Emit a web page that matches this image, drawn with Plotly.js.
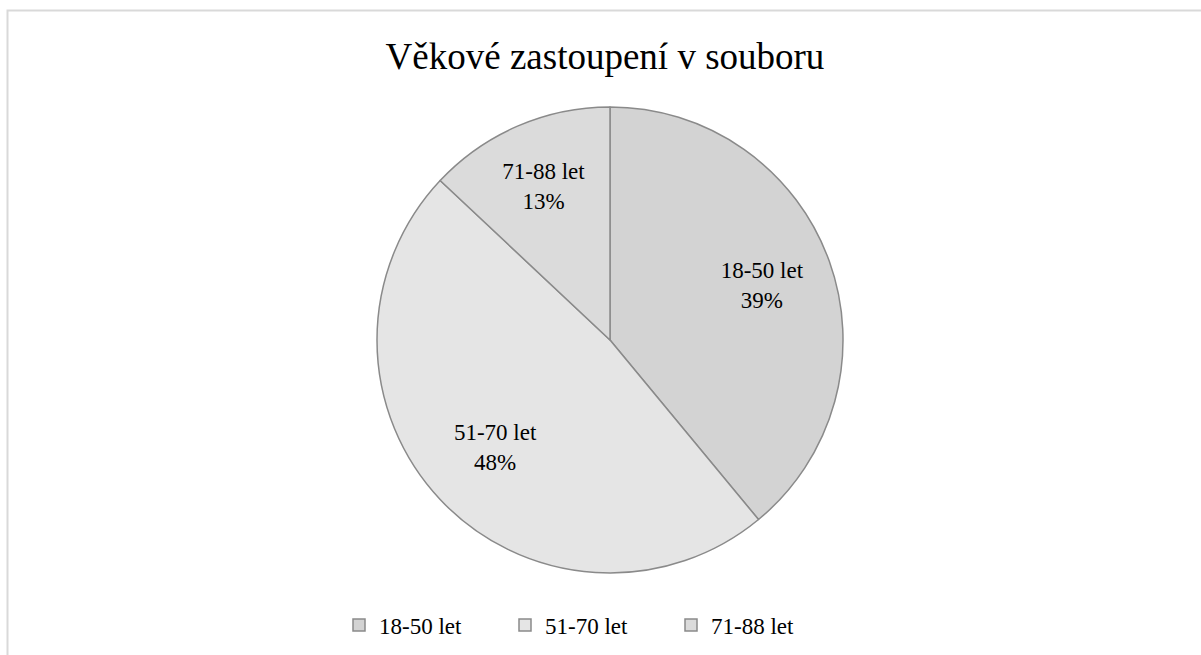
<!DOCTYPE html>
<html>
<head>
<meta charset="utf-8">
<script src="https://cdn.plot.ly/plotly-3.0.1.min.js"></script>
<style>
html,body{margin:0;padding:0;background:#fff;overflow:hidden;}
#chart{width:1201px;height:655px;}
</style>
</head>
<body>
<div id="chart"></div>
<script>
var categories = ["18-50 let", "51-70 let", "71-88 let"];
var values = [39, 48, 13];
var sliceColors = ["#d3d3d3", "#e5e5e5", "#dbdbdb"];
var chartTitle = "Věkové zastoupení v souboru";

var W = 1201, H = 655;
var cx = 610, cy = 340, r = 233;
var serif = "'Liberation Serif', 'Times New Roman', serif";
var lbl = "%{label}<br>%{percent:.0%}";

function dom(rad) {
  return {x: [(cx - rad) / W, (cx + rad) / W], y: [1 - (cy + rad) / H, 1 - (cy - rad) / H]};
}

var mainPie = {
  type: "pie",
  labels: categories,
  values: values,
  sort: false,
  direction: "clockwise",
  rotation: 0,
  texttemplate: ["", "", lbl],
  textposition: "inside",
  insidetextorientation: "horizontal",
  insidetextfont: {family: serif, size: 23, color: "#000"},
  marker: {colors: sliceColors, line: {color: "#8a8a8a", width: 1.5}},
  domain: dom(r),
  hoverinfo: "label+percent"
};

// transparent, larger concentric pie used only to place the big-slice labels further out
var labelPie = {
  type: "pie",
  labels: categories,
  values: values,
  sort: false,
  direction: "clockwise",
  rotation: 0,
  texttemplate: [lbl, lbl, ""],
  textposition: "inside",
  insidetextorientation: "horizontal",
  insidetextfont: {family: serif, size: 23, color: "#000"},
  marker: {colors: ["rgba(0,0,0,0)", "rgba(0,0,0,0)", "rgba(0,0,0,0)"], line: {width: 0}},
  domain: dom(314),
  showlegend: false,
  hoverinfo: "skip"
};

var layout = {
  width: W, height: H,
  margin: {l: 0, r: 0, t: 0, b: 0},
  paper_bgcolor: "#ffffff",
  font: {family: serif, color: "#000"},
  title: {
    text: chartTitle,
    font: {family: serif, size: 37, color: "#000"},
    x: 605 / W, xanchor: "center",
    y: 1 - 56 / H, yanchor: "middle"
  },
  showlegend: true,
  legend: {
    orientation: "h",
    x: 339 / W, xanchor: "left",
    y: 1 - 625 / H, yanchor: "middle",
    font: {family: serif, size: 23, color: "#000"},
    itemwidth: 30,
    entrywidth: 121,
    traceorder: "normal"
  },
  shapes: [{
    type: "rect", xref: "paper", yref: "paper",
    x0: 7.5 / W, x1: 1.02, y0: -0.02, y1: 1 - 10.5 / H,
    line: {color: "#d9d9d9", width: 2}, fillcolor: "rgba(0,0,0,0)", layer: "below"
  }]
};

Plotly.newPlot("chart", [mainPie, labelPie], layout, {displayModeBar: false, staticPlot: true});
</script>
</body>
</html>
